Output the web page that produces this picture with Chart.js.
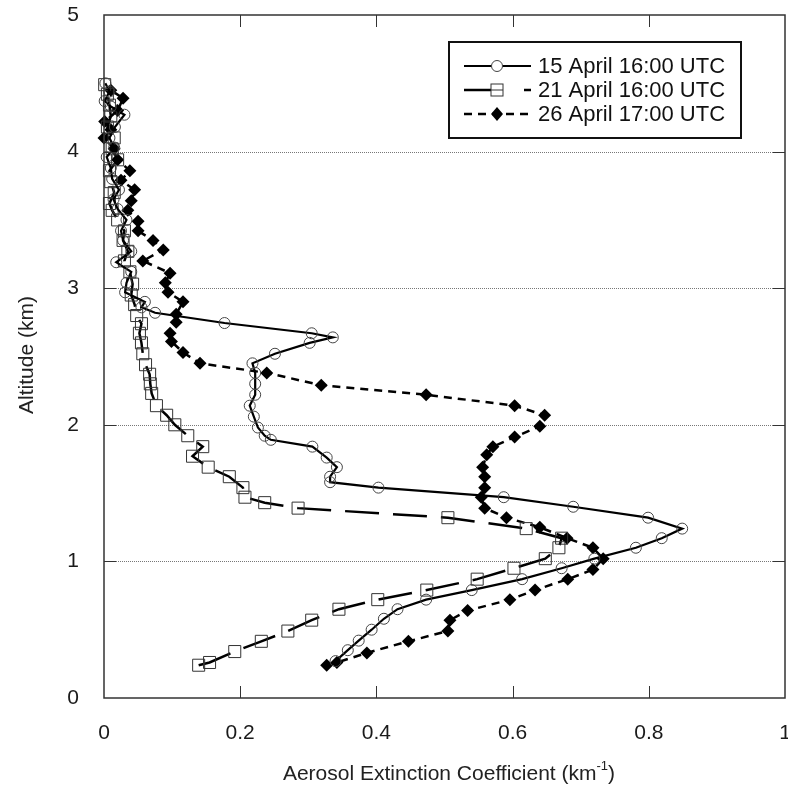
<!DOCTYPE html>
<html>
<head>
<meta charset="utf-8">
<script src="https://cdn.jsdelivr.net/npm/chart.js@4.4.1/dist/chart.umd.min.js"></script>
<style>
  html, body { margin: 0; padding: 0; background: #fff; }
</style>
</head>
<body>
<canvas id="myChart" width="788" height="789"></canvas>
<script>
// tick labels
const xTickLabels = ['0', '0.2', '0.4', '0.6', '0.8', '1'];
const yTickLabels = ['0', '1', '2', '3', '4', '5'];

const seriesNames = ['15 April 16:00 UTC', '21 April 16:00 UTC', '26 April 17:00 UTC'];

// 15 April profile (altitude km, extinction km-1)
const apr15Alt = [0.27,0.35,0.42,0.50,0.58,0.65,0.72,0.79,0.87,0.95,1.02,1.10,1.17,1.24,1.32,1.40,1.47,1.54,1.58,1.62,
  1.69,1.76,1.84,1.89,1.92,1.98,2.06,2.14,2.22,2.30,2.38,2.45,2.52,2.60,2.64,2.67,2.745,2.82,2.86,2.90,
  2.97,3.04,3.12,3.19,3.27,3.35,3.42,3.50,3.58,3.65,3.72,3.80,3.88,3.96,4.03,4.10,4.18,4.27,4.33,4.37,4.44,4.50];
const apr15Ext = [0.340,0.358,0.374,0.393,0.411,0.431,0.473,0.540,0.614,0.672,0.720,0.781,0.819,0.849,0.799,0.689,0.587,0.403,0.332,0.332,
  0.342,0.327,0.306,0.245,0.236,0.226,0.220,0.214,0.222,0.222,0.222,0.218,0.251,0.302,0.336,0.305,0.177,0.075,0.055,0.060,
  0.031,0.033,0.040,0.018,0.040,0.028,0.025,0.033,0.020,0.014,0.022,0.012,0.010,0.004,0.015,0.008,0.016,0.030,0.010,0.001,0.008,0.002];

// 21 April profile
const apr21Alt = [0.24,0.26,0.34,0.415,0.49,0.57,0.65,0.72,0.79,0.87,0.95,1.02,1.10,1.17,1.24,1.32,1.39,1.43,1.47,1.54,
  1.62,1.69,1.77,1.84,1.92,2.00,2.07,2.14,2.23,2.30,2.37,2.44,2.52,2.60,2.67,2.74,2.80,2.88,2.95,3.03,
  3.12,3.20,3.27,3.35,3.42,3.50,3.57,3.62,3.70,3.78,3.86,3.94,4.02,4.10,4.18,4.26,4.34,4.42,4.49];
const apr21Ext = [0.139,0.155,0.192,0.231,0.270,0.305,0.345,0.402,0.474,0.548,0.602,0.648,0.668,0.672,0.620,0.505,0.285,0.236,0.207,0.204,
  0.184,0.153,0.130,0.145,0.123,0.104,0.092,0.077,0.070,0.068,0.067,0.061,0.057,0.055,0.052,0.055,0.048,0.045,0.040,0.042,
  0.038,0.030,0.035,0.028,0.030,0.020,0.012,0.008,0.015,0.010,0.008,0.020,0.012,0.015,0.005,0.010,0.008,0.005,0.001];

// 26 April profile
const apr26Alt = [0.24,0.26,0.33,0.415,0.49,0.57,0.64,0.72,0.79,0.87,0.94,1.02,1.10,1.17,1.25,1.32,1.39,1.47,1.54,1.62,
  1.69,1.78,1.84,1.91,1.99,2.07,2.14,2.22,2.29,2.38,2.45,2.53,2.61,2.67,2.75,2.81,2.90,2.97,3.04,3.11,
  3.20,3.28,3.35,3.42,3.49,3.57,3.64,3.72,3.79,3.86,3.94,4.02,4.10,4.16,4.22,4.30,4.39,4.45];
const apr26Ext = [0.327,0.342,0.386,0.447,0.505,0.508,0.534,0.596,0.633,0.681,0.718,0.733,0.718,0.680,0.640,0.591,0.559,0.554,0.559,0.559,
  0.556,0.562,0.571,0.603,0.640,0.647,0.603,0.473,0.319,0.239,0.141,0.116,0.099,0.097,0.106,0.106,0.116,0.094,0.090,0.097,
  0.057,0.087,0.072,0.050,0.050,0.035,0.040,0.045,0.025,0.038,0.020,0.015,0.000,0.010,0.001,0.020,0.028,0.010];

const toPoints = (alt, ext) => alt.map((a, i) => ({ x: ext[i], y: a }));

const FONT = '"Liberation Sans", Arial, sans-serif';
Chart.defaults.font.family = FONT;

function drawMarker(ctx, kind, x, y) {
  ctx.save();
  ctx.setLineDash([]);
  ctx.lineWidth = 1;
  if (kind === 'circle') {
    ctx.strokeStyle = '#444';
    ctx.fillStyle = '#fff';
    ctx.beginPath(); ctx.arc(x, y, 5.5, 0, Math.PI * 2); ctx.fill(); ctx.stroke();
  } else if (kind === 'rect') {
    ctx.strokeStyle = '#333';
    ctx.fillStyle = '#fff';
    ctx.fillRect(x - 6, y - 6, 12, 12);
    ctx.strokeRect(x - 6, y - 6, 12, 12);
    ctx.beginPath(); ctx.moveTo(x - 6, y); ctx.lineTo(x + 6, y); ctx.stroke();
  } else {
    ctx.fillStyle = '#000';
    ctx.beginPath();
    ctx.moveTo(x, y - 7); ctx.lineTo(x + 6, y); ctx.lineTo(x, y + 7); ctx.lineTo(x - 6, y);
    ctx.closePath(); ctx.fill();
  }
  ctx.restore();
}

const frame = {
  id: 'frame',
  beforeDatasetsDraw(chart) {
    const { ctx, chartArea: a, scales: { y } } = chart;
    ctx.save();
    ctx.strokeStyle = '#777';
    ctx.lineWidth = 1;
    ctx.setLineDash([1, 1]);
    [1, 2, 3, 4].forEach(v => {
      const py = Math.round(y.getPixelForValue(v)) + 0.5;
      ctx.beginPath(); ctx.moveTo(a.left, py); ctx.lineTo(a.right, py); ctx.stroke();
    });
    ctx.restore();
  },
  afterDatasetsDraw(chart) {
    const { ctx, chartArea: a, scales: { x, y } } = chart;
    ctx.save();
    ctx.setLineDash([]);
    ctx.strokeStyle = '#333';
    ctx.lineWidth = 1.5;
    ctx.strokeRect(a.left, a.top, a.right - a.left, a.bottom - a.top);
    ctx.lineWidth = 1;
    // inward ticks
    [0.2, 0.4, 0.6, 0.8].forEach(v => {
      const px = Math.round(x.getPixelForValue(v)) + 0.5;
      ctx.beginPath();
      ctx.moveTo(px, a.bottom); ctx.lineTo(px, a.bottom - 12);
      ctx.moveTo(px, a.top); ctx.lineTo(px, a.top + 12);
      ctx.stroke();
    });
    [1, 2, 3, 4].forEach(v => {
      const py = Math.round(y.getPixelForValue(v)) + 0.5;
      ctx.beginPath();
      ctx.moveTo(a.right, py); ctx.lineTo(a.right - 12, py);
      ctx.moveTo(a.left, py); ctx.lineTo(a.left + 12, py);
      ctx.stroke();
    });

    // legend
    const bx = 449, by = 42, bw = 292, bh = 96;
    ctx.fillStyle = '#fff';
    ctx.fillRect(bx, by, bw, bh);
    ctx.lineWidth = 2;
    ctx.strokeStyle = '#111';
    ctx.strokeRect(bx, by, bw, bh);
    const kinds = ['circle', 'rect', 'diamond'];
    const dashes = [[], [33, 27], [8, 6]];
    const widths = [2, 2.5, 2.5];
    seriesNames.forEach((name, i) => {
      const ly = 66 + i * 24;
      ctx.save();
      ctx.strokeStyle = '#000';
      ctx.lineWidth = widths[i];
      ctx.setLineDash(dashes[i]);
      ctx.beginPath(); ctx.moveTo(464, ly); ctx.lineTo(531, ly); ctx.stroke();
      ctx.restore();
      drawMarker(ctx, kinds[i], 497, ly);
      ctx.fillStyle = '#111';
      ctx.font = '22px ' + FONT;
      ctx.textAlign = 'left';
      ctx.textBaseline = 'middle';
      ctx.fillText(name, 538, ly + 1);
    });
    ctx.restore();
  },
  afterDraw(chart) {
    const { ctx } = chart;
    ctx.save();
    ctx.fillStyle = '#222';
    // x axis title with superscript
    const main = 'Aerosol Extinction Coefficient (km';
    ctx.font = '21px ' + FONT;
    const w1 = ctx.measureText(main).width;
    ctx.font = '13px ' + FONT;
    const w2 = ctx.measureText('-1').width;
    ctx.font = '21px ' + FONT;
    const w3 = ctx.measureText(')').width;
    let sx = 449 - (w1 + w2 + w3) / 2;
    ctx.textBaseline = 'alphabetic';
    ctx.textAlign = 'left';
    ctx.fillText(main, sx, 780);
    ctx.font = '13px ' + FONT;
    ctx.fillText('-1', sx + w1, 770);
    ctx.font = '21px ' + FONT;
    ctx.fillText(')', sx + w1 + w2, 780);
    // y axis title
    ctx.translate(33, 355);
    ctx.rotate(-Math.PI / 2);
    ctx.textAlign = 'center';
    ctx.fillText('Altitude (km)', 0, 0);
    ctx.restore();
  }
};

const ctx = document.getElementById('myChart').getContext('2d');
const myChart = new Chart(ctx, {
  type: 'scatter',
  data: {
    datasets: [{
      label: seriesNames[0],
      data: toPoints(apr15Alt, apr15Ext),
      showLine: true,
      borderColor: '#000',
      borderWidth: 2.2,
      pointStyle: 'circle',
      pointRadius: 5.5,
      pointBorderWidth: 1,
      pointBorderColor: '#444',
      pointBackgroundColor: 'rgba(255,255,255,0)',
      clip: 10
    }, {
      label: seriesNames[1],
      data: toPoints(apr21Alt, apr21Ext),
      showLine: true,
      borderColor: '#000',
      borderWidth: 2.5,
      borderDash: [34, 14],
      pointStyle: 'rect',
      pointRadius: 8.5,
      pointBorderWidth: 1,
      pointBorderColor: '#333',
      pointBackgroundColor: 'rgba(255,255,255,0)',
      clip: 10
    }, {
      label: seriesNames[2],
      data: toPoints(apr26Alt, apr26Ext),
      showLine: true,
      borderColor: '#000',
      borderWidth: 2.5,
      borderDash: [8, 6],
      pointStyle: 'rectRot',
      pointRadius: 6.5,
      pointBorderWidth: 0,
      pointBackgroundColor: '#000',
      clip: 10
    }]
  },
  options: {
    responsive: false,
    animation: false,
    layout: { autoPadding: false, padding: { top: 15, right: 3, left: 0, bottom: 0 } },
    plugins: { legend: { display: false }, tooltip: { enabled: false } },
    scales: {
      x: {
        type: 'linear', min: 0, max: 1,
        grid: { display: false },
        border: { display: false },
        afterBuildTicks: s => { s.ticks = xTickLabels.map(t => ({ value: Number(t) })); },
        afterFit: s => { s.height = 91; s.paddingLeft = 0; s.paddingRight = 0; },
        ticks: {
          padding: 15,
          color: '#1a1a1a',
          font: { size: 21 },
          maxRotation: 0,
          callback: (v, i) => xTickLabels[i]
        }
      },
      y: {
        type: 'linear', min: 0, max: 5,
        grid: { display: false },
        border: { display: false },
        afterBuildTicks: s => { s.ticks = yTickLabels.map(t => ({ value: Number(t) })); },
        afterFit: s => { s.width = 104; s.paddingTop = 0; s.paddingBottom = 0; },
        ticks: {
          padding: 17,
          color: '#1a1a1a',
          font: { size: 21 },
          callback: (v, i) => yTickLabels[i]
        }
      }
    }
  },
  plugins: [frame]
});
</script>
</body>
</html>
